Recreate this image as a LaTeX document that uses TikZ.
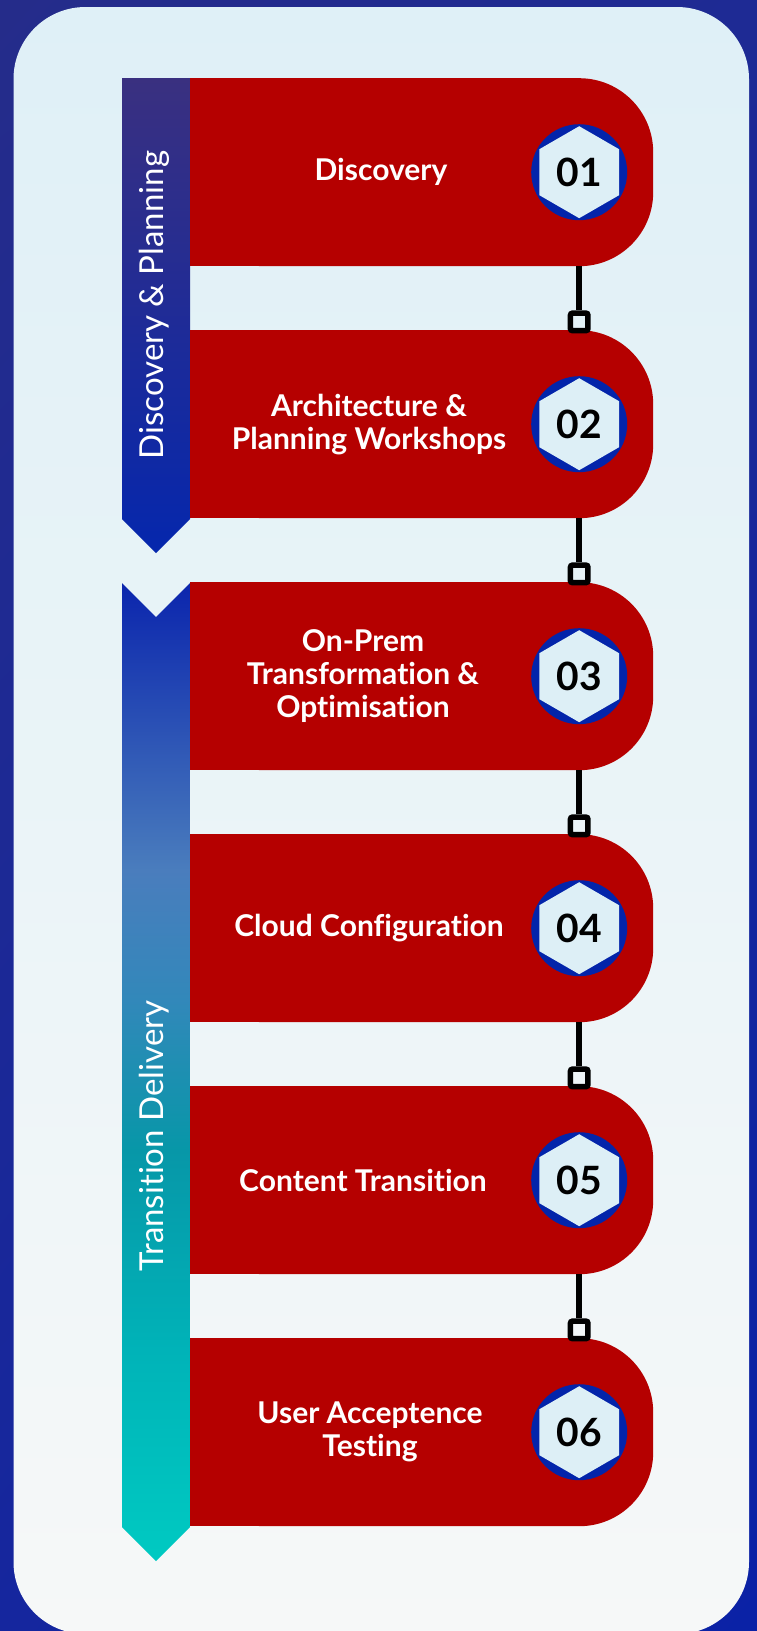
\documentclass[tikz,border=0pt]{standalone}
\usepackage{fontspec}
\setmainfont{Lato}[Ligatures=NoCommon]
\usetikzlibrary{positioning,shapes.geometric,shadings}
\definecolor{bgA}{HTML}{252C8A}
\definecolor{bgB}{HTML}{1E2A94}
\definecolor{bgC}{HTML}{15269E}
\definecolor{bgD}{HTML}{0A22A6}
\definecolor{paneltop}{HTML}{DFF0F7}
\definecolor{panelbot}{HTML}{F6F8F8}
\definecolor{planA}{HTML}{3A3080}
\definecolor{planB}{HTML}{0527AD}
\definecolor{stepred}{HTML}{B50000}
\definecolor{ringblue}{HTML}{0324AA}
\definecolor{hexfill}{HTML}{DDEFF6}
\definecolor{dA}{HTML}{0B25AD}
\definecolor{dB}{HTML}{4A7DBD}
\definecolor{dC}{HTML}{3288BA}
\definecolor{dD}{HTML}{0797A8}
\definecolor{dE}{HTML}{00B3B8}
\definecolor{dF}{HTML}{00CAC2}

\begin{document}
\begin{tikzpicture}[x=1pt,y=1pt,
    stepbox/.style={rectangle, fill=stepred, rounded corners=74pt, minimum width=463pt, minimum height=188pt, inner sep=0pt, anchor=north west},
    steptext/.style={text=white, align=center, font=\fontsize{30}{33}\selectfont\bfseries},
    ring/.style={circle, fill=ringblue, minimum size=96pt, inner sep=0pt},
    hexa/.style={regular polygon, regular polygon sides=6, regular polygon rotate=30, fill=hexfill, minimum size=92pt, inner sep=0pt, font=\fontsize{39}{39}\selectfont\bfseries},
    knot/.style={rectangle, draw=black, line width=5.5pt, rounded corners=2pt, minimum size=17.5pt, inner sep=0pt},
    link/.style={draw=black, line width=6pt},
    phase/.style={rotate=90, text=white, font=\fontsize{33}{36}\selectfont}]
    \useasboundingbox (0,0) rectangle (757,-1631);
    \shade[upper left=bgA, upper right=bgB, lower left=bgC, lower right=bgD] (0,0) rectangle (757,-1631);
    \shade[top color=paneltop, bottom color=panelbot, rounded corners=72pt] (13.5,-7) rectangle (749,-1634);

    \shade[top color=planA, bottom color=planB] (122,-78) -- (190,-78) -- (190,-519) -- (156,-553) -- (122,-519) -- cycle;
    \begin{scope}
        \clip (122,-583) -- (156,-617) -- (190,-583) -- (190,-1527) -- (156,-1561) -- (122,-1527) -- cycle;
        \foreach \ya/\yb/\ca/\cb in {583/870/dA/dB, 870/1000/dB/dC, 1000/1150/dC/dD, 1150/1350/dD/dE, 1350/1562/dE/dF}
            \shade[top color=\ca, bottom color=\cb] (122,-\ya+0.5) rectangle (190,-\yb-0.5);
    \end{scope}
    \node[phase] (phase1) at (154,-305) {Discovery \& Planning};
    \node[phase] (phase2) at (154,-1136) {Transition Delivery};

    \foreach \dx/\lbl [count=\i] in {191/Discovery, 179/{Architecture \&\\Planning Workshops}, 173/{On-Prem\\Transformation \&\\Optimisation}, 179/Cloud Configuration, 173/Content Transition, 180/{User Acceptence\\Testing}} {
        \node[stepbox] (box\i) at (190,{-78-252*(\i-1)}) {};
        \fill[stepred] (box\i.north west) rectangle ([xshift=80pt]box\i.south west);
        \node[steptext] (lbl\i) at ([xshift=\dx]box\i.west) {\lbl};
        \node[ring, left=26pt of box\i.east] (ring\i) {};
        \node[hexa] (num\i) at (ring\i) {0\i};
    }
    \foreach \i in {1,...,5} {
        \coordinate (foot\i) at (box\i.south -| num\i);
        \node[knot, below=44pt of foot\i] (knot\i) {};
        \draw[link] (foot\i) -- (knot\i);
    }
\end{tikzpicture}
\end{document}
